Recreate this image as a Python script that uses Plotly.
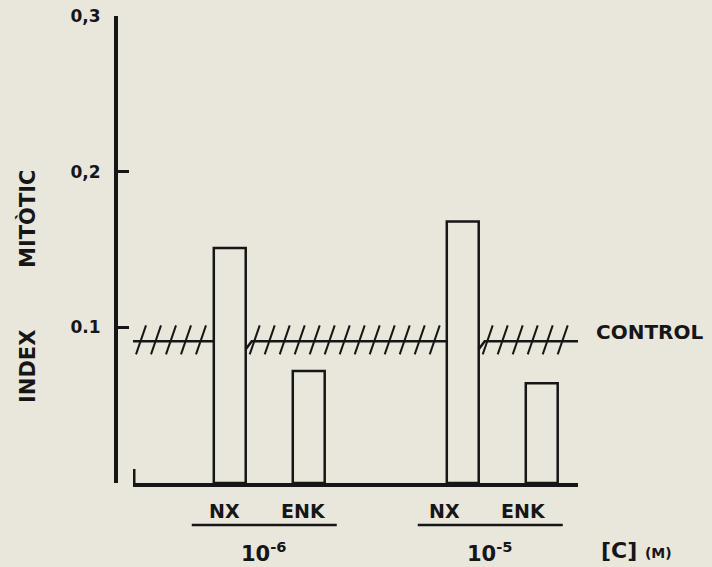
import plotly.graph_objects as go

# ---------------- data ----------------
concentrations = ["10<sup>-6</sup>", "10<sup>-5</sup>"]
treatments = ["NX", "ENK"]
nx_values = [0.151, 0.168]
enk_values = [0.072, 0.064]
control_value = 0.091
y_ticks = [0.1, 0.2, 0.3]
y_tick_labels = ["0.1", "0,2", "0,3"]
y_title_words = ["INDEX", "MITÒTIC"]
control_label = "CONTROL"
unit_label = "[C] <span style='font-size:14px'>(M)</span>"

# ---------------- layout constants ----------------
W, H = 712, 567
PLOT_TOP, PLOT_BOTTOM = 16, 483
BG = "#e9e6dc"
INK = "#161616"
FONT = "DejaVu Sans"
Y_MAX = 0.3

X0_PX, X1_PX = 133, 578
GROUP0_PX, GROUP_SPACING_PX = 269.25, 233.0
PX_PER_Y = (PLOT_BOTTOM - PLOT_TOP) / Y_MAX


def px_x(p):
    return p / W


def px_y(p):
    return (PLOT_BOTTOM - p) / (PLOT_BOTTOM - PLOT_TOP)


def data_x(p):
    return (p - GROUP0_PX) / GROUP_SPACING_PX


def dpx(p):
    return p / GROUP_SPACING_PX


def dpy(p):
    return p / PX_PER_Y


OFFSET = 0.1695
BAR_W = 0.137
LABEL_SHIFT_PX = [-5, -18]
GROUP_LINE_SHIFT_PX = [-5, -12]
UNDERLINE_HALF = dpx(72.5)

groups = list(range(len(concentrations)))
nx_x = [g - OFFSET for g in groups]
enk_x = [g + OFFSET for g in groups]

fig = go.Figure()

# ---------------- control line with hatching ----------------
all_x = nx_x + enk_x
all_v = nx_values + enk_values
cuts = sorted((x - BAR_W / 2, x + BAR_W / 2) for x, v in zip(all_x, all_v) if v > control_value)
segments = []
start = data_x(132)
for a, b in cuts:
    segments.append((start, a))
    start = b
segments.append((start, data_x(578)))

lx, ly = [], []
hx, hy = [], []
for i, (a, b) in enumerate(segments):
    if i > 0:
        lx += [a, a + dpx(6), b]
        ly += [control_value - dpy(8), control_value, control_value]
    else:
        lx += [a, b]
        ly += [control_value, control_value]
    lx.append(None)
    ly.append(None)
    c = a + dpx(9)
    while c < b - dpx(3):
        hx += [c - dpx(5), c + dpx(5), None]
        hy += [control_value - dpy(13), control_value + dpy(16), None]
        c += dpx(15)

fig.add_trace(go.Scatter(x=lx, y=ly, mode="lines", line=dict(color=INK, width=2.5),
                         hoverinfo="skip", showlegend=False, cliponaxis=False))
fig.add_trace(go.Scatter(x=hx, y=hy, mode="lines", line=dict(color=INK, width=2),
                         hoverinfo="skip", showlegend=False, cliponaxis=False))

# ---------------- bars ----------------
for name, xs, vals in [(treatments[0], nx_x, nx_values), (treatments[1], enk_x, enk_values)]:
    fig.add_trace(go.Bar(x=xs, y=vals, width=BAR_W, name=name,
                         marker=dict(color="rgba(0,0,0,0)", line=dict(color=INK, width=2.5)),
                         showlegend=False))

# ---------------- annotations ----------------
ann = []
for g in groups:
    for name, xs in [(treatments[0], nx_x), (treatments[1], enk_x)]:
        ann.append(dict(x=xs[g], y=px_y(511), xref="x", yref="paper", text=name,
                        xshift=LABEL_SHIFT_PX[g], showarrow=False,
                        xanchor="center", yanchor="middle",
                        font=dict(family=FONT, size=19, color=INK, weight="bold")))
    ann.append(dict(x=g + dpx(GROUP_LINE_SHIFT_PX[g]), y=px_y(552), xref="x", yref="paper",
                    text=concentrations[g], showarrow=False,
                    xanchor="center", yanchor="middle",
                    font=dict(family=FONT, size=21, color=INK, weight="bold")))

ann.append(dict(x=px_x(594), y=px_y(332), xref="paper", yref="paper", text=control_label,
                xanchor="left", yanchor="middle", showarrow=False,
                font=dict(family=FONT, size=20, color=INK, weight="bold")))
ann.append(dict(x=px_x(599), y=px_y(550), xref="paper", yref="paper", text=unit_label,
                xanchor="left", yanchor="middle", showarrow=False,
                font=dict(family=FONT, size=22, color=INK, weight="bold")))
ann.append(dict(x=px_x(28), y=px_y(367), xref="paper", yref="paper", text=y_title_words[0],
                textangle=-90, showarrow=False, xanchor="center", yanchor="middle",
                font=dict(family=FONT, size=21, color=INK, weight="bold")))
ann.append(dict(x=px_x(28), y=px_y(219), xref="paper", yref="paper", text=y_title_words[1],
                textangle=-90, showarrow=False, xanchor="center", yanchor="middle",
                font=dict(family=FONT, size=21, color=INK, weight="bold")))

# ---------------- shapes ----------------
shapes = [dict(type="line", xref="x", yref="y", x0=data_x(134), x1=data_x(134), y0=0, y1=dpy(14),
               line=dict(color=INK, width=3))]
for g in groups:
    c = g + dpx(GROUP_LINE_SHIFT_PX[g])
    shapes.append(dict(type="line", xref="x", yref="paper", x0=c - UNDERLINE_HALF,
                       x1=c + UNDERLINE_HALF, y0=px_y(525), y1=px_y(525),
                       line=dict(color=INK, width=2.5)))

fig.update_layout(
    width=W, height=H,
    margin=dict(l=0, r=0, t=PLOT_TOP, b=H - PLOT_BOTTOM, autoexpand=False),
    paper_bgcolor=BG, plot_bgcolor=BG,
    showlegend=False,
    barmode="overlay",
    annotations=ann,
    shapes=shapes,
    xaxis=dict(range=[data_x(X0_PX), data_x(X1_PX)], domain=[px_x(X0_PX), px_x(X1_PX)],
               showline=True, linewidth=4, linecolor=INK, showticklabels=False, ticks="",
               showgrid=False, zeroline=False, anchor="y"),
    yaxis=dict(range=[0, Y_MAX], domain=[0, 1], anchor="free", position=px_x(116),
               showline=True, linewidth=4, linecolor=INK, ticks="inside", ticklen=11,
               tickwidth=3, tickcolor=INK, tickvals=y_ticks, ticktext=y_tick_labels,
               tickfont=dict(family=FONT, size=17, color=INK, weight="bold"),
               ticklabelstandoff=10, showgrid=False, zeroline=False),
)

fig.write_html("out.html", config={"displayModeBar": False},
               post_script="document.body.style.margin='0';document.body.style.background='%s';" % BG)
